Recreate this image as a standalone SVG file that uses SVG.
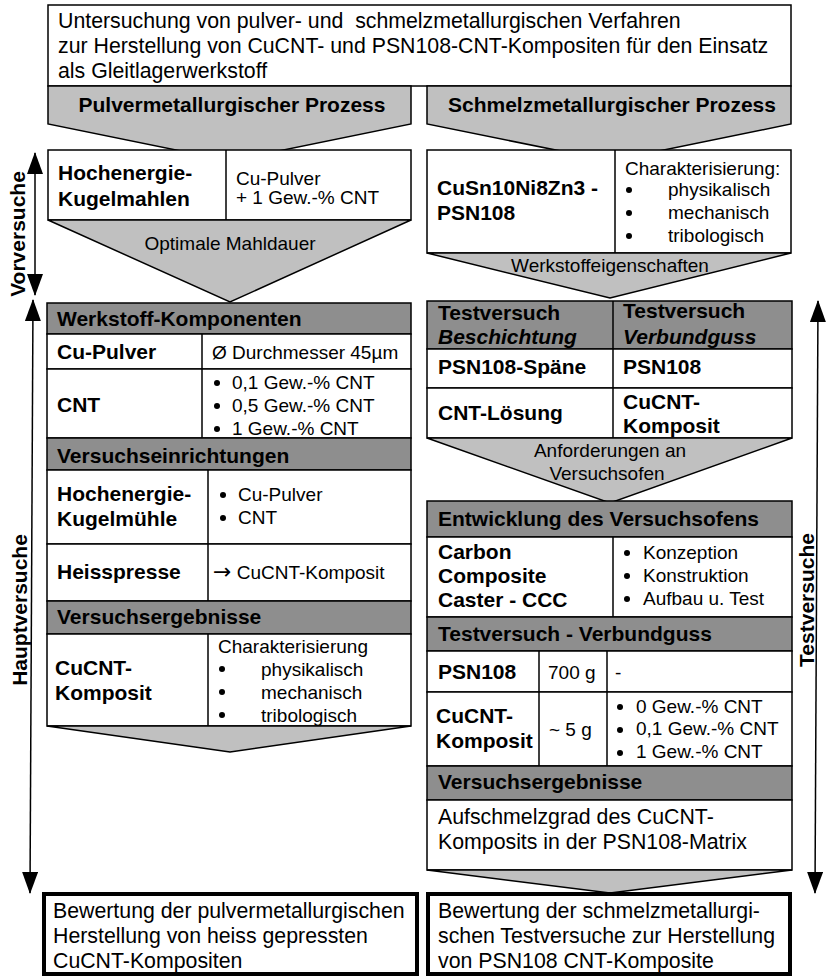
<svg xmlns="http://www.w3.org/2000/svg" width="827" height="977" viewBox="0 0 827 977">
<style>
.box{fill:#fff;stroke:#000;stroke-width:1.5}
.hdr{fill:#8e8e8e;stroke:#000;stroke-width:1.5}
.chev{fill:#c0c0c0;stroke:#000;stroke-width:1.5}
.thick{fill:#fff;stroke:#000;stroke-width:4}
.ln{stroke:#000;stroke-width:1.5;fill:none}
.dot{fill:#000}
text{font-family:"Liberation Sans",Arial,sans-serif;fill:#000}
.s{font-size:19px}
.r{font-size:21.3px}
.b{font-size:21px;font-weight:bold}
.bi{font-size:21px;font-weight:bold;font-style:italic}
.c{text-anchor:middle}
.arr{stroke:#000;stroke-width:1.5;fill:none;marker-start:url(#ah);marker-end:url(#ah)}
</style>
<defs>
<marker id="ah" markerUnits="userSpaceOnUse" markerWidth="22" markerHeight="16" refX="21" refY="8" orient="auto-start-reverse">
<path d="M0,0 L22,8 L0,16 Z" fill="#000"/>
</marker>
</defs>

<g id="title">
<rect class="box" x="48" y="5" width="743" height="81"/>
<text class="r" x="58" y="28" xml:space="preserve">Untersuchung von pulver- und  schmelzmetallurgischen Verfahren</text>
<text class="r" x="58" y="53">zur Herstellung von CuCNT- und PSN108-CNT-Kompositen für den Einsatz</text>
<text class="r" x="58" y="78">als Gleitlagerwerkstoff</text>
</g>

<g id="pm-process">
<polygon class="chev" points="48,86 411,86 411,124 230,161 48,124"/>
<text class="b c" x="232" y="112">Pulvermetallurgischer Prozess</text>
</g>

<g id="sm-process">
<polygon class="chev" points="427,86 791,86 791,124 610,161 427,124"/>
<text class="b c" x="612" y="112">Schmelzmetallurgischer Prozess</text>
</g>

<g id="kugelmahlen">
<rect class="box" x="48" y="150" width="363" height="70"/>
<line class="ln" x1="226" y1="150" x2="226" y2="220"/>
<text class="b" x="58" y="180">Hochenergie-</text>
<text class="b" x="58" y="206">Kugelmahlen</text>
<text class="s" x="236" y="185">Cu-Pulver</text>
<text class="s" x="236" y="204">+ 1 Gew.-% CNT</text>
</g>

<g id="mahldauer">
<polygon class="chev" points="48,220 411,220 230,302"/>
<text class="s c" x="230" y="250">Optimale Mahldauer</text>
</g>

<g id="psn108">
<rect class="box" x="427" y="150" width="364" height="103"/>
<line class="ln" x1="615" y1="150" x2="615" y2="253"/>
<text class="b" x="437" y="195">CuSn10Ni8Zn3 -</text>
<text class="b" x="437" y="220">PSN108</text>
<text class="s" x="625" y="175">Charakterisierung:</text>
<circle class="dot" cx="629" cy="190" r="3"/>
<text class="s" x="668" y="196">physikalisch</text>
<circle class="dot" cx="629" cy="213" r="3"/>
<text class="s" x="668" y="219">mechanisch</text>
<circle class="dot" cx="629" cy="236" r="3"/>
<text class="s" x="668" y="242">tribologisch</text>
</g>

<g id="werkstoffeigenschaften">
<polygon class="chev" points="427,253 791,253 610,298"/>
<text class="s c" x="610" y="272">Werkstoffeigenschaften</text>
</g>

<g id="hauptversuch-table">
<rect class="hdr" x="47" y="303" width="364" height="31"/>
<text class="b" x="57" y="326">Werkstoff-Komponenten</text>
<rect class="box" x="47" y="334" width="364" height="35"/>
<line class="ln" x1="202" y1="334" x2="202" y2="438"/>
<text class="b" x="57" y="359">Cu-Pulver</text>
<text class="s" x="212" y="359">Ø Durchmesser 45µm</text>
<rect class="box" x="47" y="369" width="364" height="69"/>
<line class="ln" x1="202" y1="369" x2="202" y2="438"/>
<text class="b" x="57" y="412">CNT</text>
<circle class="dot" cx="217" cy="383" r="3"/>
<text class="s" x="232" y="389">0,1 Gew.-% CNT</text>
<circle class="dot" cx="217" cy="406" r="3"/>
<text class="s" x="232" y="412">0,5 Gew.-% CNT</text>
<circle class="dot" cx="217" cy="429" r="3"/>
<text class="s" x="232" y="435">1 Gew.-% CNT</text>

<rect class="hdr" x="47" y="438" width="364" height="32"/>
<text class="b" x="57" y="463">Versuchseinrichtungen</text>
<rect class="box" x="47" y="470" width="364" height="74"/>
<line class="ln" x1="208" y1="470" x2="208" y2="544"/>
<text class="b" x="57" y="501">Hochenergie-</text>
<text class="b" x="57" y="526">Kugelmühle</text>
<circle class="dot" cx="223" cy="495" r="3"/>
<text class="s" x="238" y="501">Cu-Pulver</text>
<circle class="dot" cx="223" cy="518" r="3"/>
<text class="s" x="238" y="524">CNT</text>
<rect class="box" x="47" y="544" width="364" height="57"/>
<line class="ln" x1="208" y1="544" x2="208" y2="601"/>
<text class="b" x="57" y="579">Heisspresse</text>
<text class="s" x="213" y="579"><tspan font-family="DejaVu Sans, sans-serif" font-size="22">→</tspan> CuCNT-Komposit</text>

<rect class="hdr" x="47" y="601" width="364" height="33"/>
<text class="b" x="57" y="624">Versuchsergebnisse</text>
<rect class="box" x="47" y="634" width="364" height="92"/>
<line class="ln" x1="208" y1="634" x2="208" y2="726"/>
<text class="b" x="55" y="675">CuCNT-</text>
<text class="b" x="55" y="700">Komposit</text>
<text class="s" x="218" y="653">Charakterisierung</text>
<circle class="dot" cx="222" cy="669" r="3"/>
<text class="s" x="261" y="676">physikalisch</text>
<circle class="dot" cx="222" cy="692" r="3"/>
<text class="s" x="261" y="699">mechanisch</text>
<circle class="dot" cx="222" cy="715" r="3"/>
<text class="s" x="261" y="722">tribologisch</text>
</g>

<g id="hauptversuch-out">
<polygon class="chev" points="47,726 411,726 230,752"/>
</g>

<g id="testversuch-table">
<rect class="hdr" x="427" y="301" width="365" height="48"/>
<line class="ln" x1="613" y1="301" x2="613" y2="438"/>
<text class="b" x="438" y="320">Testversuch</text>
<text class="bi" x="438" y="344">Beschichtung</text>
<text class="b" x="623" y="318">Testversuch</text>
<text class="bi" x="623" y="344">Verbundguss</text>
<rect class="box" x="427" y="349" width="365" height="39"/>
<line class="ln" x1="613" y1="349" x2="613" y2="438"/>
<text class="b" x="438" y="374">PSN108-Späne</text>
<text class="b" x="623" y="374">PSN108</text>
<rect class="box" x="427" y="388" width="365" height="50"/>
<line class="ln" x1="613" y1="388" x2="613" y2="438"/>
<text class="b" x="438" y="420">CNT-Lösung</text>
<text class="b" x="623" y="409">CuCNT-</text>
<text class="b" x="623" y="433">Komposit</text>
</g>

<g id="anforderungen">
<polygon class="chev" points="427,438 792,438 610,503"/>
<text class="s c" x="610" y="457">Anforderungen an</text>
<text class="s c" x="607" y="480">Versuchsofen</text>
</g>

<g id="versuchsofen-table">
<rect class="hdr" x="427" y="501" width="365" height="36"/>
<text class="b" x="438" y="526">Entwicklung des Versuchsofens</text>
<rect class="box" x="427" y="537" width="365" height="80"/>
<line class="ln" x1="613" y1="537" x2="613" y2="617"/>
<text class="b" x="438" y="559">Carbon</text>
<text class="b" x="438" y="583">Composite</text>
<text class="b" x="438" y="607">Caster - CCC</text>
<circle class="dot" cx="627" cy="553" r="3"/>
<text class="s" x="643" y="559">Konzeption</text>
<circle class="dot" cx="627" cy="576" r="3"/>
<text class="s" x="643" y="582">Konstruktion</text>
<circle class="dot" cx="627" cy="599" r="3"/>
<text class="s" x="643" y="605">Aufbau u. Test</text>

<rect class="hdr" x="427" y="617" width="365" height="34"/>
<text class="b" x="438" y="641">Testversuch - Verbundguss</text>
<rect class="box" x="427" y="651" width="365" height="41"/>
<line class="ln" x1="539" y1="651" x2="539" y2="766"/>
<line class="ln" x1="607" y1="651" x2="607" y2="766"/>
<text class="b" x="438" y="679">PSN108</text>
<text class="s" x="548" y="679">700 g</text>
<text class="s" x="615" y="679">-</text>
<rect class="box" x="427" y="692" width="365" height="74"/>
<line class="ln" x1="539" y1="692" x2="539" y2="766"/>
<line class="ln" x1="607" y1="692" x2="607" y2="766"/>
<text class="b" x="436" y="723">CuCNT-</text>
<text class="b" x="436" y="748">Komposit</text>
<text class="s" x="549" y="736">~ 5 g</text>
<circle class="dot" cx="620" cy="707" r="3"/>
<text class="s" x="636" y="713">0 Gew.-% CNT</text>
<circle class="dot" cx="620" cy="730" r="3"/>
<text class="s" x="636" y="735">0,1 Gew.-% CNT</text>
<circle class="dot" cx="620" cy="753" r="3"/>
<text class="s" x="636" y="758">1 Gew.-% CNT</text>

<rect class="hdr" x="427" y="766" width="365" height="34"/>
<text class="b" x="438" y="789">Versuchsergebnisse</text>
<rect class="box" x="427" y="800" width="365" height="70"/>
<text class="r" x="438" y="824">Aufschmelzgrad des CuCNT-</text>
<text class="r" x="438" y="849">Komposits in der PSN108-Matrix</text>
</g>

<g id="testversuch-out">
<polygon class="chev" points="427,870 792,870 610,893"/>
</g>

<g id="bewertung-pm">
<rect class="thick" x="44" y="894" width="373" height="80"/>
<text class="r" x="53" y="918">Bewertung der pulvermetallurgischen</text>
<text class="r" x="53" y="943">Herstellung von heiss gepressten</text>
<text class="r" x="53" y="968">CuCNT-Kompositen</text>
</g>

<g id="bewertung-sm">
<rect class="thick" x="428" y="894" width="362" height="80"/>
<text class="r" x="438" y="918">Bewertung der schmelzmetallurgi-</text>
<text class="r" x="438" y="943">schen Testversuche zur Herstellung</text>
<text class="r" x="438" y="968">von PSN108 CNT-Komposite</text>
</g>

<g id="connectors">
<line class="arr" x1="35" y1="153" x2="35" y2="295"/>
<line class="arr" x1="33" y1="300" x2="30" y2="893"/>
<line class="arr" x1="818" y1="301" x2="815" y2="893"/>
</g>

<g id="phase-labels">
<text class="b c" transform="translate(25,234) rotate(-90)">Vorversuche</text>
<text class="b c" transform="translate(27,610) rotate(-90)">Hauptversuche</text>
<text class="b c" transform="translate(814,600) rotate(-90)">Testversuche</text>
</g>
</svg>
